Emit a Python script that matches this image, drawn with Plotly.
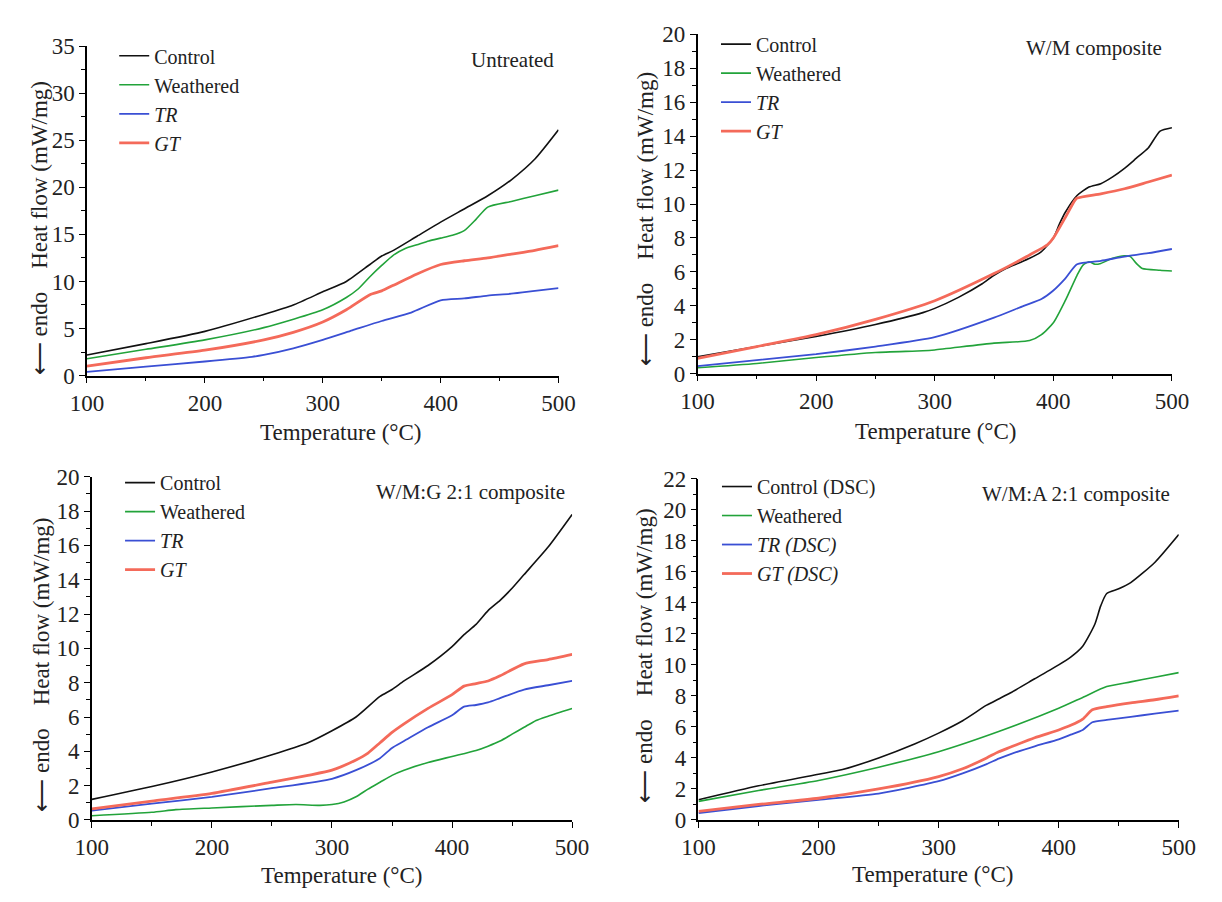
import plotly.graph_objects as go

# ---------------- data ----------------
# Panel 1: Untreated
u_ctrl_x = [100, 150, 200, 250, 275, 300, 320, 340, 350, 360, 380, 400, 420, 440, 460, 480, 500]
u_ctrl_y = [2.2, 3.4, 4.7, 6.5, 7.5, 8.9, 10.0, 11.8, 12.7, 13.3, 14.8, 16.3, 17.7, 19.1, 20.8, 23.0, 26.1]
u_weat_x = [100, 150, 200, 250, 300, 320, 330, 340, 350, 360, 370, 380, 390, 400, 410, 420, 430, 440, 460, 480, 500]
u_weat_y = [1.8, 2.8, 3.8, 5.1, 7.0, 8.3, 9.2, 10.5, 11.7, 12.8, 13.5, 13.9, 14.3, 14.6, 14.9, 15.4, 16.6, 17.9, 18.5, 19.1, 19.7]
u_tr_x = [100, 150, 200, 240, 250, 275, 300, 325, 350, 375, 400, 420, 440, 460, 480, 500]
u_tr_y = [0.4, 0.95, 1.5, 2.0, 2.2, 2.9, 3.8, 4.8, 5.8, 6.7, 8.0, 8.2, 8.5, 8.7, 9.0, 9.3]
u_gt_x = [100, 150, 200, 250, 275, 300, 320, 340, 350, 360, 380, 400, 420, 440, 460, 480, 500]
u_gt_y = [1.0, 1.9, 2.7, 3.8, 4.6, 5.7, 7.0, 8.6, 9.0, 9.6, 10.8, 11.8, 12.2, 12.5, 12.9, 13.3, 13.8]

# Panel 2: W/M composite
m_ctrl_x = [100, 150, 200, 250, 290, 300, 320, 340, 350, 360, 370, 380, 390, 400, 405, 410, 420, 430, 440, 450, 460, 470, 480, 490, 500]
m_ctrl_y = [1.0, 1.6, 2.2, 2.9, 3.6, 3.85, 4.5, 5.3, 5.8, 6.2, 6.5, 6.8, 7.2, 8.0, 8.8, 9.5, 10.5, 11.0, 11.2, 11.6, 12.1, 12.7, 13.3, 14.3, 14.5]
m_weat_x = [100, 150, 200, 250, 290, 300, 350, 380, 390, 400, 410, 420, 425, 430, 435, 440, 450, 460, 465, 470, 475, 490, 500]
m_weat_y = [0.35, 0.6, 0.95, 1.25, 1.35, 1.4, 1.8, 1.95, 2.3, 3.0, 4.3, 5.8, 6.4, 6.6, 6.45, 6.5, 6.8, 6.95, 6.9, 6.5, 6.2, 6.1, 6.05]
m_tr_x = [100, 150, 200, 250, 300, 350, 375, 390, 400, 410, 420, 440, 460, 480, 500]
m_tr_y = [0.45, 0.8, 1.15, 1.6, 2.15, 3.3, 4.0, 4.4, 4.9, 5.6, 6.45, 6.65, 6.9, 7.1, 7.35]
m_gt_x = [100, 150, 200, 250, 300, 350, 380, 395, 400, 410, 418, 420, 440, 460, 480, 500]
m_gt_y = [0.9, 1.6, 2.3, 3.2, 4.3, 5.9, 7.0, 7.6, 8.0, 9.2, 10.2, 10.35, 10.6, 10.9, 11.3, 11.7]

# Panel 3: W/M:G 2:1 composite
g_ctrl_x = [100, 150, 200, 250, 280, 300, 320, 340, 350, 360, 380, 400, 410, 420, 430, 440, 450, 460, 480, 500]
g_ctrl_y = [1.2, 1.95, 2.8, 3.8, 4.5, 5.2, 6.0, 7.2, 7.6, 8.1, 9.0, 10.1, 10.8, 11.4, 12.2, 12.8, 13.5, 14.3, 15.9, 17.8]
g_weat_x = [100, 150, 170, 200, 250, 270, 290, 300, 310, 320, 330, 340, 350, 360, 380, 400, 420, 430, 440, 450, 460, 470, 480, 500]
g_weat_y = [0.25, 0.45, 0.6, 0.7, 0.85, 0.9, 0.85, 0.9, 1.05, 1.35, 1.8, 2.2, 2.6, 2.9, 3.35, 3.7, 4.05, 4.3, 4.6, 5.0, 5.4, 5.8, 6.05, 6.5]
g_tr_x = [100, 150, 200, 250, 300, 320, 340, 350, 360, 380, 400, 410, 420, 430, 440, 460, 480, 500]
g_tr_y = [0.55, 0.95, 1.35, 1.85, 2.4, 2.9, 3.6, 4.2, 4.6, 5.4, 6.1, 6.6, 6.7, 6.85, 7.1, 7.6, 7.85, 8.1]
g_gt_x = [100, 150, 200, 250, 280, 300, 320, 330, 340, 350, 360, 380, 400, 410, 420, 430, 440, 460, 480, 500]
g_gt_y = [0.65, 1.1, 1.55, 2.2, 2.6, 2.9, 3.5, 3.9, 4.5, 5.1, 5.6, 6.5, 7.3, 7.8, 7.95, 8.1, 8.4, 9.1, 9.35, 9.65]

# Panel 4: W/M:A 2:1 composite
a_ctrl_x = [100, 150, 200, 220, 250, 280, 300, 320, 340, 350, 360, 380, 400, 410, 420, 430, 435, 440, 450, 460, 480, 500]
a_ctrl_y = [1.3, 2.2, 2.95, 3.25, 4.0, 4.9, 5.6, 6.4, 7.4, 7.8, 8.2, 9.1, 10.0, 10.5, 11.2, 12.6, 13.8, 14.6, 14.9, 15.3, 16.6, 18.4]
a_weat_x = [100, 150, 200, 250, 300, 350, 400, 420, 440, 460, 480, 500]
a_weat_y = [1.2, 1.9, 2.55, 3.4, 4.4, 5.7, 7.2, 7.9, 8.6, 8.9, 9.2, 9.5]
a_tr_x = [100, 150, 200, 250, 300, 320, 340, 350, 360, 380, 400, 410, 420, 428, 440, 460, 480, 500]
a_tr_y = [0.45, 0.9, 1.3, 1.7, 2.5, 3.0, 3.6, 3.95, 4.25, 4.75, 5.2, 5.5, 5.8, 6.3, 6.45, 6.65, 6.85, 7.05]
a_gt_x = [100, 150, 200, 250, 300, 320, 340, 350, 360, 380, 400, 410, 420, 428, 440, 460, 480, 500]
a_gt_y = [0.55, 1.0, 1.4, 2.0, 2.8, 3.3, 4.0, 4.4, 4.7, 5.3, 5.8, 6.1, 6.5, 7.1, 7.3, 7.55, 7.75, 8.0]

panel_titles = ["Untreated", "W/M composite", "W/M:G 2:1 composite", "W/M:A 2:1 composite"]
names_std = ["Control", "Weathered", "<i>TR</i>", "<i>GT</i>"]
names_dsc = ["Control (DSC)", "Weathered", "<i>TR (DSC)</i>", "<i>GT (DSC)</i>"]
y_ranges = [(0, 35, 5), (0, 20, 2), (0, 20, 2), (0, 22, 2)]
x_ticks = [100, 200, 300, 400, 500]

# ---------------- style ----------------
FONT = "Liberation Serif, Times New Roman, serif"
colors = ["#111111", "#22a33a", "#3a4fd4", "#f46a5a"]
widths = [1.6, 1.6, 1.8, 2.8]

W, H = 1222, 902
# plot areas in pixels: (x_left, x_right, y_top, y_bottom)
areas = [(72, 557, 35, 374), (700, 1188, 23, 372), (77, 571, 478, 831), (701, 1195, 480, 831)]
legend_text_left = [150, 769, 156, 770]
legend_first_row = [50, 38, 489, 493]
title_right = [554, 1180, 566, 1188]
title_mid_y = [49, 37, 494, 496]
xtitle_c = [(333, 432), (945, 431), (334, 888), (942, 887)]
ytitle_c = [(23, 222), (646, 213), (25, 671), (646, 662)]

panels = [
    [(u_ctrl_x, u_ctrl_y), (u_weat_x, u_weat_y), (u_tr_x, u_tr_y), (u_gt_x, u_gt_y)],
    [(m_ctrl_x, m_ctrl_y), (m_weat_x, m_weat_y), (m_tr_x, m_tr_y), (m_gt_x, m_gt_y)],
    [(g_ctrl_x, g_ctrl_y), (g_weat_x, g_weat_y), (g_tr_x, g_tr_y), (g_gt_x, g_gt_y)],
    [(a_ctrl_x, a_ctrl_y), (a_weat_x, a_weat_y), (a_tr_x, a_tr_y), (a_gt_x, a_gt_y)],
]

def px(x):
    return x / W

def py(y):
    return 1 - y / H

fig = go.Figure()
layout = dict(
    width=W, height=H,
    margin=dict(l=0, r=0, t=0, b=0),
    paper_bgcolor="white", plot_bgcolor="white",
    font=dict(family=FONT, size=23, color="black"),
    annotations=[],
)

NB = "\u00a0"
ytitle_text = "⟵" + NB + "endo" + NB * 4 + "Heat flow (mW/mg)"

for p in range(4):
    ax = "" if p == 0 else str(p + 1)
    xa, ya = "x" + ax, "y" + ax
    leg = "legend" if p == 0 else "legend" + str(p + 1)
    nm = names_dsc if p == 3 else names_std
    for i, (xs, ys) in enumerate(panels[p]):
        fig.add_trace(go.Scatter(
            x=xs, y=ys, mode="lines", name=nm[i],
            line=dict(color=colors[i], width=widths[i], shape="spline", smoothing=0.6),
            xaxis=xa, yaxis=ya, legend=leg,
        ))
    xl, xr, yt, yb = areas[p]
    ymin, ymax, ydt = y_ranges[p]
    common = dict(
        showline=True, linecolor="black", linewidth=1.5, mirror=False,
        showgrid=False, zeroline=False, ticks="outside", ticklen=6, tickwidth=1.3,
        tickcolor="black", tickfont=dict(family=FONT, size=23, color="#222"),
    )
    layout["xaxis" + ax] = dict(
        domain=[px(xl), px(xr)], anchor=ya, range=[100, 500], tickvals=x_ticks,
        minor=dict(ticks="outside", ticklen=4, tickwidth=1.2, dtick=50, tick0=100, tickcolor="black"),
        **common,
    )
    layout["yaxis" + ax] = dict(
        domain=[py(yb), py(yt)], anchor=xa, range=[ymin, ymax], dtick=ydt, tick0=0,
        minor=dict(ticks="outside", ticklen=4, tickwidth=1.2, dtick=ydt / 2, tick0=0, tickcolor="black"),
        **common,
    )
    layout[leg] = dict(
        x=px(legend_text_left[p] - 50), y=py(legend_first_row[p] - 25),
        xanchor="left", yanchor="top", bgcolor="rgba(0,0,0,0)",
        font=dict(family=FONT, size=20, color="#222"),
    )
    layout["annotations"].append(dict(
        x=px(title_right[p]), y=py(title_mid_y[p]), xref="paper", yref="paper",
        xanchor="right", yanchor="middle",
        text=panel_titles[p], showarrow=False, font=dict(family=FONT, size=21, color="#222"),
    ))
    gx, gy = xtitle_c[p]
    layout["annotations"].append(dict(
        x=px(gx), y=py(gy), xref="paper", yref="paper", xanchor="center", yanchor="middle",
        text="Temperature (°C)", showarrow=False, font=dict(family=FONT, size=23, color="#222"),
    ))
    hx, hy = ytitle_c[p]
    layout["annotations"].append(dict(
        x=px(hx), y=py(hy), xref="paper", yref="paper", xanchor="center", yanchor="middle",
        text=ytitle_text, textangle=-90, showarrow=False,
        font=dict(family=FONT, size=23, color="#222"),
    ))

fig.update_layout(**layout)
fig.write_html("out.html")
